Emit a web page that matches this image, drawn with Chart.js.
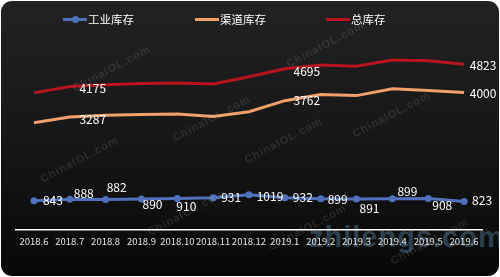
<!DOCTYPE html>
<html>
<head>
<meta charset="utf-8">
<script src="https://cdn.jsdelivr.net/npm/chart.js@4.4.0/dist/chart.umd.min.js"></script>
<style>
  html, body { margin: 0; padding: 0; background: #fff; }
  body { position: relative; width: 500px; height: 277px; overflow: hidden; }
  #bg {
    position: absolute; left: 1px; top: 1px; width: 498px; height: 275px;
    border-radius: 11px; overflow: hidden;
    background: linear-gradient(180deg, #222222 0%, #1a1a1a 35%, #111111 70%, #070707 100%);
  }
  #logo {
    position: absolute; left: 308px; top: 220px;
    font: bold 29px "Liberation Sans", sans-serif; color: rgba(95, 140, 170, 0.42);
    white-space: nowrap; letter-spacing: 1px;
  }
  #box { position: absolute; left: 0; top: 0; width: 500px; height: 277px; }
  #legend { position: absolute; left: 0; top: 0; width: 500px; height: 30px; }
  .item { position: absolute; top: 11px; height: 16px; display: flex; align-items: center; }
  .mark { position: relative; width: 24px; height: 3px; margin-right: 1px; }
  .dot { position: absolute; left: 9px; top: -2px; width: 7px; height: 7px; border-radius: 50%; }
  .item span { font: 11.5px "Noto Sans CJK SC", sans-serif; color: #fff; }
  .wm {
    position: absolute; font: bold 11px "Liberation Sans", sans-serif;
    color: rgba(255, 255, 255, 0.11); transform: rotate(-28deg); white-space: nowrap;
    letter-spacing: 1px;
  }
</style>
</head>
<body>
<div id="bg"><div id="logo">zhilengs.com</div></div>
<div id="box"><canvas id="myChart"></canvas></div>
<div id="legend"></div>
<div class="wm" style="left:68px;top:62px">ChinaIOL.com</div>
<div class="wm" style="left:36px;top:153px">ChinaIOL.com</div>
<div class="wm" style="left:168px;top:112px">ChinaIOL.com</div>
<div class="wm" style="left:282px;top:38px">ChinaIOL.com</div>
<div class="wm" style="left:348px;top:108px">ChinaIOL.com</div>
<div class="wm" style="left:240px;top:134px">ChinaIOL.com</div>
<div class="wm" style="left:143px;top:206px">ChinaIOL.com</div>
<div class="wm" style="left:264px;top:221px">ChinaIOL.com</div>
<div class="wm" style="left:386px;top:235px">ChinaIOL.com</div>
<script>
const months = [
  "2018.6", "2018.7", "2018.8", "2018.9", "2018.10", "2018.11", "2018.12",
  "2019.1", "2019.2", "2019.3", "2019.4", "2019.5", "2019.6",
];

const seriesNames = ["工业库存", "渠道库存", "总库存"];

// 工业库存
const industryStock = [843, 888, 882, 890, 910, 931, 1019, 932, 899, 891, 899, 908, 823];
// 渠道库存 (only 3287 / 3762 / 4000 are printed, the rest)
const channelStock = [3120, 3287, 3340, 3360, 3370, 3300, 3440, 3762, 3940, 3910, 4110, 4060, 4000];
// 总库存
const totalStock = [3990, 4175, 4230, 4260, 4280, 4250, 4460, 4695, 4800, 4770, 4950, 4930, 4823];

const seriesColors = ["#5072bd", "#f1a06c", "#b8141d"];

// which points get a number, and where the number sits relative to the point
const labelShown = [
  [0, 1, 2, 3, 4, 5, 6, 7, 8, 9, 10, 11, 12],
  [1, 7, 12],
  [1, 7, 12],
];
const labelOffsets = [
  [[19, 0], [14, -6], [11, -12], [11, 5], [9, 8], [18, 0], [21, 2], [18, 0], [17, 1], [13, 9], [15, -7], [14, 7], [18, -1]],
  [[23, 2], [22, 0], [19, 1]],
  [[23, 2], [22, 3], [19, 1]],
];

// legend, drawn as html next to the canvas
const legendLeft = [63, 195, 326];
const buildLegend = () => {
  let html = "";
  seriesNames.forEach((name, i) => {
    const dot = i === 0 ? `<div class="dot" style="background:${seriesColors[i]}"></div>` : "";
    html += `<div class="item" style="left:${legendLeft[i]}px"><div class="mark" style="background:${seriesColors[i]}">${dot}</div><span>${name}</span></div>`;
  });
  document.getElementById("legend").innerHTML = html;
};

// draw the numbers next to the points
const valueLabels = {
  id: "valueLabels",
  afterDatasetsDraw(chart) {
    const ctx = chart.ctx;
    ctx.save();
    ctx.font = '12px "Noto Sans CJK SC"';
    ctx.fillStyle = "#ffffff";
    ctx.textAlign = "center";
    ctx.textBaseline = "middle";
    chart.data.datasets.forEach((ds, i) => {
      const meta = chart.getDatasetMeta(i);
      labelShown[i].forEach((idx, k) => {
        const pt = meta.data[idx];
        const [dx, dy] = labelOffsets[i][k];
        ctx.fillText(String(ds.data[idx]), pt.x + dx, pt.y + dy);
      });
    });
    ctx.restore();
  },
};

const lineSet = (label, data, color, withPoints) => {
  return {
    label: label,
    data: data,
    borderColor: color,
    backgroundColor: color,
    borderWidth: 3,
    tension: 0,
    pointRadius: withPoints ? 3.5 : 0,
    pointHoverRadius: withPoints ? 3.5 : 0,
    pointBorderWidth: 0,
    fill: false,
  };
};

buildLegend();

new Chart(document.getElementById("myChart"), {
  type: "line",
  data: {
    labels: months,
    datasets: [
      lineSet(seriesNames[0], industryStock, seriesColors[0], true),
      lineSet(seriesNames[1], channelStock, seriesColors[1], false),
      lineSet(seriesNames[2], totalStock, seriesColors[2], false),
    ],
  },
  options: {
    responsive: true,
    maintainAspectRatio: false,
    animation: false,
    layout: { padding: { left: 16, right: 18, top: 24, bottom: 24 } },
    scales: {
      x: {
        offset: true,
        grid: { display: false, drawTicks: false },
        border: { display: true, color: "#ffffff", width: 1.5 },
        ticks: {
          color: "#e6e6e6",
          padding: 6,
          autoSkip: false,
          maxRotation: 0,
          minRotation: 0,
          font: { family: "Noto Sans CJK SC", size: 9.5 },
        },
      },
      y: {
        display: false,
        min: 0,
        max: 6000,
      },
    },
    plugins: {
      legend: { display: false },
      tooltip: { enabled: false },
    },
  },
  plugins: [valueLabels],
});
</script>
</body>
</html>
